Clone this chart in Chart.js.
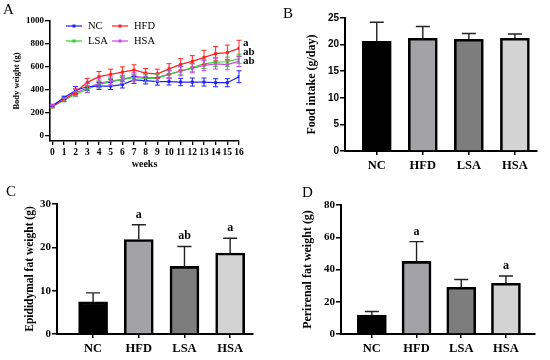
<!DOCTYPE html>
<html>
<head>
<meta charset="utf-8">
<script src="https://cdn.jsdelivr.net/npm/chart.js@4.4.1/dist/chart.umd.min.js"></script>
<style>
  body { margin: 0; background: #fff; }
  #wrap { position: relative; width: 550px; height: 360px; overflow: hidden; }
  canvas { position: absolute; }
  .tag { position: absolute; font-family: "Liberation Serif", serif; font-size: 15px; line-height: 15px; }
</style>
</head>
<body>
<div id="wrap">
  <canvas id="cA" width="275" height="175" style="left:0;top:0"></canvas>
  <canvas id="cB" width="275" height="175" style="left:275px;top:0"></canvas>
  <canvas id="cC" width="275" height="185" style="left:0;top:175px"></canvas>
  <canvas id="cD" width="275" height="185" style="left:275px;top:175px"></canvas>
  <div class="tag" style="left:3px;top:2px">A</div>
  <div class="tag" style="left:283px;top:6px">B</div>
  <div class="tag" style="left:6px;top:184px">C</div>
  <div class="tag" style="left:302px;top:185px">D</div>
</div>
<script>
// ---- data ----
var weeks = [0, 1, 2, 3, 4, 5, 6, 7, 8, 9, 10, 11, 12, 13, 14, 15, 16];
var weightTicks = [0, 200, 400, 600, 800, 1000];

var ncWeight  = [262, 330, 396, 427, 433, 433, 446, 486, 481, 471, 472, 468, 468, 468, 462, 462, 514];
var hfdWeight = [255, 316, 384, 465, 515, 535, 555, 573, 546, 540, 583, 622, 648, 683, 715, 725, 762];
var lsaWeight = [255, 310, 362, 405, 448, 470, 488, 509, 500, 502, 535, 566, 592, 626, 642, 645, 671];
var hsaWeight = [259, 313, 375, 416, 457, 477, 492, 518, 507, 508, 535, 562, 588, 612, 626, 620, 648];

var ncWeightSd  = [12, 15, 32, 30, 30, 30, 30, 30, 30, 30, 30, 32, 35, 35, 35, 35, 52];
var hfdWeightSd = [12, 15, 25, 35, 45, 45, 45, 45, 40, 40, 45, 50, 50, 62, 62, 65, 70];
var lsaWeightSd = [12, 15, 22, 30, 30, 30, 30, 30, 30, 30, 30, 35, 35, 40, 40, 40, 40];
var hsaWeightSd = [12, 15, 28, 38, 38, 35, 35, 35, 35, 35, 35, 40, 40, 45, 45, 45, 45];
var weightSig = ['', 'a', 'ab', 'ab'];

var groups = ['NC', 'HFD', 'LSA', 'HSA'];
var foodIntake   = [20.6, 21.2, 21.0, 21.2];
var foodIntakeSd = [3.6, 2.2, 1.1, 0.8];
var foodTicks = [0, 5, 10, 15, 20, 25];

var epiFat   = [7.4, 21.8, 15.6, 18.7];
var epiFatSd = [2.1, 3.4, 4.6, 3.4];
var epiSig   = ['', 'a', 'ab', 'a'];
var epiTicks = [0, 10, 20, 30];

var periFat   = [11.8, 45.0, 29.0, 31.5];
var periFatSd = [2.2, 12.3, 4.8, 4.5];
var periSig   = ['', 'a', '', 'a'];
var periTicks = [0, 20, 40, 60, 80];

var lineColors = ['#2020ff', '#ff2222', '#33cc33', '#cc44ee'];
var barColors = ['#000000', '#a3a3a7', '#7d7d7d', '#d3d3d3'];

// ---- defaults ----
var serif = '"Liberation Serif", "Times New Roman", serif';
Chart.defaults.font.family = serif;
Chart.defaults.font.weight = 'bold';
Chart.defaults.color = '#000';
Chart.defaults.animation = false;
Chart.defaults.responsive = false;
Chart.defaults.plugins.legend.display = false;
Chart.defaults.plugins.tooltip.enabled = false;

// error bars: line charts get both sides, bar charts only the top half
var errorBars = {
  id: 'errorBars',
  afterDatasetsDraw: function(chart, args, opts) {
    var ctx = chart.ctx;
    var y = chart.scales.y;
    chart.data.datasets.forEach(function(ds, i) {
      if (!ds.sd) return;
      var meta = chart.getDatasetMeta(i);
      ctx.save();
      ctx.strokeStyle = opts.color || ds.borderColor;
      ctx.lineWidth = opts.lineWidth;
      meta.data.forEach(function(el, j) {
        var v = ds.data[j].y;
        var top = y.getPixelForValue(v + ds.sd[j]);
        var bot = opts.both ? y.getPixelForValue(v - ds.sd[j]) : el.y;
        ctx.beginPath();
        ctx.moveTo(el.x, bot); ctx.lineTo(el.x, top);
        ctx.moveTo(el.x - opts.cap, top); ctx.lineTo(el.x + opts.cap, top);
        if (opts.both) { ctx.moveTo(el.x - opts.cap, bot); ctx.lineTo(el.x + opts.cap, bot); }
        ctx.stroke();
      });
      ctx.restore();
    });
  }
};

// significance letters above bars
var sigLetters = {
  id: 'sigLetters',
  afterDraw: function(chart, args, opts) {
    if (!opts.letters) return;
    var ctx = chart.ctx;
    var y = chart.scales.y;
    var ds = chart.data.datasets[0];
    var meta = chart.getDatasetMeta(0);
    ctx.save();
    ctx.font = 'bold 12px ' + serif;
    ctx.fillStyle = '#000';
    ctx.textAlign = 'center';
    ctx.textBaseline = 'alphabetic';
    meta.data.forEach(function(el, j) {
      if (!opts.letters[j]) return;
      ctx.fillText(opts.letters[j], el.x, y.getPixelForValue(ds.data[j].y + ds.sd[j]) - 7);
    });
    ctx.restore();
  }
};

function toPoints(xs, ys) {
  return ys.map(function(v, i) { return { x: xs[i], y: v }; });
}

function fixTicks(list) {
  return function(scale) { scale.ticks = list.map(function(v) { return { value: v }; }); };
}

function plain(v) { return String(v); }

// ---- A: body weight ----
var lineNames = ['NC', 'HFD', 'LSA', 'HSA'];
var lineData = [ncWeight, hfdWeight, lsaWeight, hsaWeight];
var lineSd = [ncWeightSd, hfdWeightSd, lsaWeightSd, hsaWeightSd];

new Chart(document.getElementById('cA'), {
  type: 'line',
  data: {
    datasets: lineNames.map(function(n, i) {
      return {
        label: n,
        data: toPoints(weeks, lineData[i]),
        sd: lineSd[i],
        borderColor: lineColors[i],
        backgroundColor: lineColors[i],
        borderWidth: 1.2,
        pointStyle: 'rect',
        pointRadius: 2.1,
        pointBorderWidth: 0,
        tension: 0
      };
    })
  },
  options: {
    layout: { padding: { left: 0, top: 21, right: 36, bottom: 0 } },
    scales: {
      x: {
        type: 'linear', min: -0.2, max: 16,
        afterBuildTicks: fixTicks(weeks),
        afterFit: function(s) { s.height = 34; },
        grid: { drawOnChartArea: false, color: '#000', lineWidth: 1.3, tickLength: 4 },
        border: { color: '#000', width: 1.6 },
        ticks: { autoSkip: false, maxRotation: 0, padding: 2, font: { size: 9.5 }, callback: plain },
        title: { display: true, text: 'weeks', font: { size: 10 }, padding: { top: 0, bottom: 5 } }
      },
      y: {
        min: -46, max: 1000,
        afterBuildTicks: fixTicks(weightTicks),
        afterFit: function(s) { s.width = 50; },
        grid: { drawOnChartArea: false, color: '#000', lineWidth: 1.3, tickLength: 5 },
        border: { color: '#000', width: 1.6 },
        ticks: { padding: 1, font: { size: 9 }, callback: plain },
        title: { display: true, text: 'Body weight (g)', font: { size: 8.5 }, padding: { top: 12, bottom: 0 } }
      }
    },
    plugins: { errorBars: { both: true, cap: 2.5, lineWidth: 1 } }
  },
  plugins: [errorBars, {
    id: 'legendAndLetters',
    afterDraw: function(chart) {
      var ctx = chart.ctx;
      var y = chart.scales.y;
      ctx.save();
      // legend, two columns inside the plot
      var cols = [66, 112], rows = [26, 41];
      chart.data.datasets.forEach(function(ds, i) {
        var lx = cols[i % 2], ly = rows[Math.floor(i / 2)];
        ctx.strokeStyle = ds.borderColor;
        ctx.lineWidth = 1.2;
        ctx.beginPath(); ctx.moveTo(lx, ly); ctx.lineTo(lx + 16, ly); ctx.stroke();
        ctx.fillStyle = ds.borderColor;
        ctx.fillRect(lx + 6.5, ly - 1.5, 3, 3);
        ctx.fillStyle = '#000';
        ctx.font = '10.5px ' + serif;
        ctx.textBaseline = 'middle';
        ctx.fillText(ds.label, lx + 22, ly + 0.5);
      });
      // letters at the end of the lines
      ctx.font = 'bold 11px ' + serif;
      ctx.textBaseline = 'middle';
      var x0 = chart.getDatasetMeta(1).data[16].x + 4;
      var y0 = y.getPixelForValue(hfdWeight[16]) - 5;
      var k = 0;
      weightSig.forEach(function(s) {
        if (!s) return;
        ctx.fillText(s, x0, y0 + k * 9);
        k++;
      });
      ctx.restore();
    }
  }]
});

// ---- bar panels ----
function barPanel(id, opts) {
  new Chart(document.getElementById(id), {
    type: 'bar',
    data: {
      datasets: [{
        data: toPoints([0, 1, 2, 3], opts.values),
        sd: opts.sd,
        backgroundColor: barColors,
        borderColor: '#000',
        borderWidth: 2.6,
        borderSkipped: 'bottom',
        barThickness: 29
      }]
    },
    options: {
      layout: { padding: opts.padding },
      scales: {
        x: {
          type: 'linear', min: opts.xMin, max: opts.xMax, offset: false,
          afterBuildTicks: fixTicks([0, 1, 2, 3]),
          afterFit: function(s) { s.height = opts.xHeight; },
          grid: { drawOnChartArea: false, offset: false, color: '#000', lineWidth: 1.5, tickLength: 4 },
          border: { color: '#000', width: 2 },
          ticks: { autoSkip: false, maxRotation: 0, padding: 3, font: { size: 12.5 },
                   callback: function(v) { return groups[v]; } }
        },
        y: {
          min: 0, max: opts.yMax,
          afterBuildTicks: fixTicks(opts.yTicks),
          afterFit: function(s) { s.width = opts.yWidth; },
          grid: { drawOnChartArea: false, color: '#000', lineWidth: 1.5, tickLength: 5 },
          border: { color: '#000', width: 2 },
          ticks: { padding: 1, font: opts.tickFont, callback: plain },
          title: { display: true, text: opts.title, font: { size: opts.titleSize }, padding: { top: opts.titlePad, bottom: 0 } }
        }
      },
      plugins: {
        errorBars: { both: false, cap: 7, lineWidth: 1.4, color: '#222' },
        sigLetters: { letters: opts.sig }
      }
    },
    plugins: [errorBars, sigLetters]
  });
}

barPanel('cB', {
  values: foodIntake, sd: foodIntakeSd, sig: null,
  yMax: 25, yTicks: foodTicks, title: 'Food intake (g/day)', titleSize: 12,
  tickFont: { family: '"Liberation Sans", Arial, sans-serif', size: 10, weight: 'bold' },
  padding: { left: 0, top: 18, right: 13, bottom: 0 },
  yWidth: 70, xHeight: 24, titlePad: 30, xMin: -0.69, xMax: 3.48
});

barPanel('cC', {
  values: epiFat, sd: epiFatSd, sig: epiSig,
  yMax: 30, yTicks: epiTicks, title: 'Epididymal fat weight (g)', titleSize: 11.5,
  tickFont: { size: 11 },
  padding: { left: 0, top: 29, right: 22, bottom: 0 },
  yWidth: 57, xHeight: 26, titlePad: 23, xMin: -0.79, xMax: 3.5
});

barPanel('cD', {
  values: periFat, sd: periFatSd, sig: periSig,
  yMax: 80, yTicks: periTicks, title: 'Perirenal fat weight (g)', titleSize: 12,
  tickFont: { size: 11 },
  padding: { left: 0, top: 30, right: 15, bottom: 0 },
  yWidth: 66, xHeight: 26, titlePad: 26, xMin: -0.69, xMax: 3.65
});
</script>
</body>
</html>
